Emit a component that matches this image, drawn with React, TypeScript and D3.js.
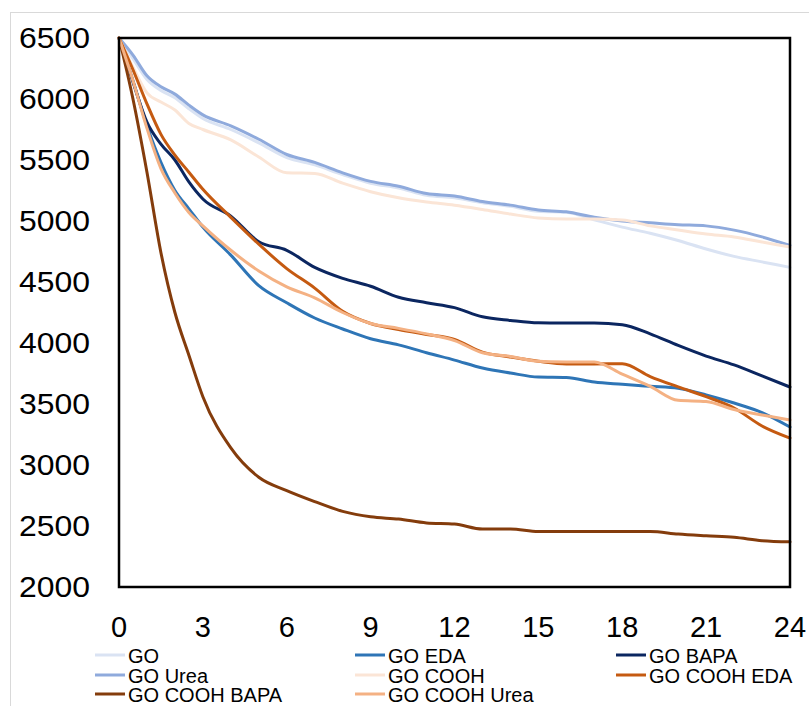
import React from 'react';
import { scaleLinear, line, curveMonotoneX } from 'd3';

// hours sampled
const hours = [0, 0.5, 1, 1.5, 2, 2.5, 3, 4, 5, 6, 7, 8, 9, 10, 11, 12, 13, 14, 15, 16, 17, 18, 19, 20, 21, 22, 23, 24];

const goVals = [6500, 6330, 6160, 6070, 6010, 5920, 5840, 5750, 5640, 5520, 5460, 5380, 5310, 5270, 5210, 5190, 5150, 5120, 5080, 5072, 5010, 4950, 4900, 4840, 4770, 4710, 4665, 4620];
const goEdaVals = [6500, 6150, 5780, 5480, 5250, 5100, 4950, 4720, 4470, 4330, 4205, 4115, 4035, 3985, 3920, 3860, 3795, 3754, 3721, 3718, 3680, 3662, 3645, 3628, 3574, 3508, 3430, 3311];
const goBapaVals = [6500, 6140, 5810, 5630, 5500, 5320, 5180, 5040, 4830, 4760, 4620, 4530, 4465, 4375, 4330, 4290, 4215, 4185, 4165, 4164, 4164, 4150, 4075, 3980, 3893, 3820, 3730, 3639];
const goUreaVals = [6500, 6360, 6190, 6100, 6040, 5950, 5870, 5780, 5670, 5545, 5480, 5395, 5325, 5285, 5225, 5205, 5160, 5130, 5090, 5075, 5030, 5000, 4985, 4970, 4960, 4925, 4870, 4800];
const goCoohVals = [6500, 6260, 6050, 5975, 5910, 5800, 5750, 5665, 5525, 5395, 5390, 5310, 5240, 5190, 5156, 5130, 5095, 5057, 5025, 5016, 5016, 5008, 4960, 4926, 4893, 4869, 4828, 4787];
const goCoohEdaVals = [6500, 6240, 5960, 5710, 5540, 5400, 5260, 5030, 4810, 4610, 4450, 4260, 4160, 4110, 4070, 4030, 3925, 3885, 3850, 3828, 3828, 3830, 3725, 3640, 3560, 3467, 3320, 3221];
const goCoohBapaVals = [6500, 6000, 5400, 4740, 4250, 3900, 3560, 3140, 2900, 2790, 2700, 2620, 2575, 2557, 2525, 2516, 2475, 2475, 2455, 2455, 2455, 2455, 2455, 2434, 2420, 2408, 2380, 2370];
const goCoohUreaVals = [6500, 6150, 5760, 5430, 5230, 5070, 4960, 4760, 4590, 4460, 4370, 4250, 4160, 4120, 4075, 4020, 3920, 3890, 3850, 3845, 3844, 3745, 3645, 3530, 3520, 3455, 3410, 3369];

const seriesNames = ['GO', 'GO EDA', 'GO BAPA', 'GO Urea', 'GO COOH', 'GO COOH EDA', 'GO COOH BAPA', 'GO COOH Urea'];
const seriesVals = [goVals, goEdaVals, goBapaVals, goUreaVals, goCoohVals, goCoohEdaVals, goCoohBapaVals, goCoohUreaVals];
const seriesColors = ['#dae3f3', '#2e75b6', '#0b2660', '#8faadc', '#fbe5d6', '#c55a11', '#843c0c', '#f4b183'];

const xTicks = [0, 3, 6, 9, 12, 15, 18, 21, 24];
const yTicks = [2000, 2500, 3000, 3500, 4000, 4500, 5000, 5500, 6000, 6500];

const W = 809;
const H = 706;
const left = 119;
const right = 790;
const top = 38;
const bottom = 587;

export default function App() {
  const x = scaleLinear().domain([0, 24]).range([left, right]);
  const y = scaleLinear().domain([2000, 6500]).range([bottom, top]);
  const path = line<number>()
    .x((_, i) => x(hours[i]))
    .y(d => y(d))
    .curve(curveMonotoneX);

  const font = '"Liberation Sans", Arial, sans-serif';
  const legendCols = [95, 355, 616];
  const legendRows = [663, 683, 702];

  return (
    <div style={{ position: 'absolute', left: 0, top: 0 }}>
      <svg width={W} height={H} style={{ display: 'block', background: '#fff' }}>
        <rect x={10.5} y={12.5} width={W + 20} height={H + 20} fill="#fff" stroke="#d9d9d9" strokeWidth={1} />
        <g>
          {seriesVals.map((vals, i) => (
            <path key={seriesNames[i]} d={path(vals) || ''} fill="none" stroke={seriesColors[i]}
              strokeWidth={3} strokeLinejoin="round" strokeLinecap="round" />
          ))}
        </g>
        <rect x={left} y={top} width={right - left} height={bottom - top} fill="none" stroke="#000" strokeWidth={2.5} />
        <g fontFamily={font} fontSize={29} fill="#000">
          {yTicks.map(t => (
            <text key={t} x={90} y={y(t) + 10} textAnchor="end" textLength={71} lengthAdjust="spacingAndGlyphs">{t}</text>
          ))}
          {xTicks.map(t => (
            <text key={t} x={x(t)} y={637} textAnchor="middle">{t}</text>
          ))}
        </g>
        <g fontFamily={font} fontSize={20} fill="#000">
          {seriesNames.map((name, i) => {
            const cx = legendCols[i % 3];
            const ry = legendRows[Math.floor(i / 3)];
            return (
              <g key={name}>
                <line x1={cx} x2={cx + 30} y1={ry - 8} y2={ry - 8} stroke={seriesColors[i]} strokeWidth={3} />
                <text x={cx + 33} y={ry}>{name}</text>
              </g>
            );
          })}
        </g>
      </svg>
    </div>
  );
}
